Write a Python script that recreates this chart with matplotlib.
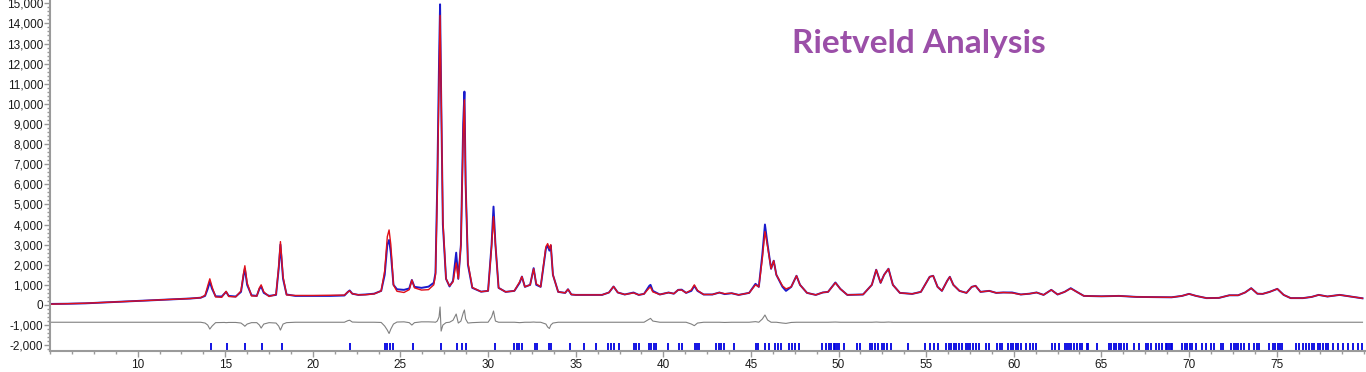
import matplotlib
matplotlib.use("Agg")
import matplotlib.pyplot as plt
from matplotlib.ticker import AutoMinorLocator, FuncFormatter, MultipleLocator

# 2theta grid with observed, calculated and difference (offset) intensities
two_theta = [5.0, 6.0, 7.0, 8.0, 9.0, 10.0, 11.0, 12.0, 13.0, 13.6,
             13.85, 14.0, 14.12, 14.25, 14.45, 14.8, 14.95, 15.05, 15.2, 15.6,
             15.9, 16.05, 16.12, 16.25, 16.5, 16.8, 16.95, 17.05, 17.2, 17.5,
             17.9, 18.05, 18.15, 18.3, 18.5, 19.0, 20.0, 21.0, 21.8, 22.0,
             22.1, 22.25, 22.6, 23.0, 23.5, 23.9, 24.1, 24.25, 24.35, 24.45,
             24.6, 24.8, 25.2, 25.5, 25.65, 25.8, 26.2, 26.6, 26.9, 27.0, 27.1,
             27.2, 27.26, 27.32, 27.42, 27.6, 27.8, 28.0, 28.18, 28.3, 28.45,
             28.58, 28.65, 28.72, 28.85, 29.1, 29.6, 30.0, 30.2, 30.31, 30.42,
             30.6, 31.0, 31.5, 31.8, 31.93, 32.1, 32.4, 32.6, 32.75, 33.0,
             33.3, 33.4, 33.5, 33.58, 33.7, 34.0, 34.4, 34.56, 34.75, 35.0,
             36.5, 36.9, 37.16, 37.4, 37.8, 38.3, 38.6, 38.9, 39.2, 39.27,
             39.4, 39.8, 40.3, 40.6, 40.85, 41.05, 41.3, 41.6, 41.77, 41.95,
             42.3, 42.8, 43.2, 43.5, 43.9, 44.3, 44.9, 45.26, 45.45, 45.65,
             45.8, 45.95, 46.15, 46.3, 46.45, 46.8, 47.0, 47.3, 47.6, 47.8,
             48.2, 48.7, 49.1, 49.4, 49.82, 50.1, 50.5, 51.4, 51.9, 52.15,
             52.4, 52.6, 52.85, 53.1, 53.5, 54.2, 54.7, 55.2, 55.4, 55.65,
             55.9, 56.2, 56.35, 56.55, 56.9, 57.3, 57.6, 57.82, 58.1, 58.6,
             59.0, 59.4, 59.9, 60.4, 60.9, 61.3, 61.7, 62.14, 62.5, 62.9,
             63.25, 63.6, 64.0, 65.0, 66.0, 67.0, 68.0, 69.0, 69.6, 70.0,
             70.4, 71.0, 71.7, 72.3, 72.8, 73.2, 73.55, 73.9, 74.2, 74.6,
             75.04, 75.4, 75.8, 76.5, 77.0, 77.4, 77.9, 78.6, 79.2, 79.9]

y_obs = [50, 60, 80, 120, 160, 200, 240, 280, 320, 360,
         450, 800, 1150, 800, 430, 420, 560, 650, 450, 420,
         650, 1500, 1800, 1000, 480, 450, 800, 920, 600, 450,
         500, 1800, 3000, 1300, 520, 450, 450, 450, 470, 650,
         720, 560, 500, 520, 560, 700, 1500, 3000, 3230, 2600,
         1000, 780, 750, 820, 1240, 900, 850, 910, 1100, 1600, 6000,
         12000, 14950, 10500, 4000, 1300, 920, 1200, 2600, 1300, 3000,
         9000, 10610, 6000, 2000, 850, 660, 700, 3000, 4890, 3000,
         850, 650, 700, 1100, 1410, 900, 1000, 1830, 1000, 900,
         2800, 2950, 2700, 2950, 1500, 650, 600, 780, 520, 500,
         500, 620, 917, 620, 520, 617, 500, 550, 950, 1000,
         700, 520, 617, 560, 750, 760, 600, 700, 950, 700,
         520, 520, 617, 540, 583, 500, 600, 1050, 900, 2500,
         4000, 3000, 1800, 2200, 1500, 900, 700, 900, 1450, 1000,
         600, 500, 620, 650, 1117, 800, 500, 520, 1000, 1750,
         1100, 1500, 1800, 1000, 600, 550, 650, 1400, 1450, 900,
         700, 1200, 1400, 1000, 700, 600, 900, 950, 650, 700,
         600, 620, 620, 520, 560, 620, 500, 750, 520, 650,
         833, 650, 450, 430, 450, 400, 390, 380, 450, 550,
         450, 340, 350, 480, 480, 620, 833, 560, 550, 650,
         800, 500, 340, 340, 400, 500, 420, 500, 420, 330]

y_calc = [40, 60, 85, 120, 160, 200, 245, 285, 320, 360,
          480, 950, 1300, 900, 400, 380, 560, 680, 420, 400,
          700, 1600, 1950, 1100, 450, 440, 850, 1000, 650, 420,
          520, 1900, 3150, 1400, 500, 470, 470, 480, 490, 650,
          700, 560, 500, 510, 550, 700, 1700, 3400, 3730, 3000,
          1000, 680, 620, 760, 1240, 850, 740, 760, 1000, 1500, 5500,
          11000, 14400, 10500, 4200, 1300, 950, 1150, 2090, 1300, 3000,
          8500, 10200, 6000, 2100, 870, 660, 700, 2900, 4390, 3000,
          850, 650, 700, 1150, 1410, 900, 1000, 1800, 1050, 900,
          2900, 3050, 2800, 3000, 1500, 650, 600, 780, 520, 500,
          500, 620, 917, 620, 520, 600, 500, 550, 850, 883,
          650, 520, 617, 560, 750, 740, 600, 750, 1000, 720,
          520, 520, 617, 560, 583, 500, 600, 1000, 900, 2300,
          3650, 2900, 1800, 2200, 1500, 950, 800, 900, 1450, 1000,
          600, 500, 620, 650, 1100, 800, 500, 520, 1000, 1750,
          1100, 1500, 1800, 1000, 600, 550, 650, 1400, 1450, 900,
          700, 1200, 1400, 1000, 700, 600, 900, 950, 650, 700,
          600, 620, 600, 520, 560, 620, 500, 750, 520, 650,
          820, 650, 450, 430, 450, 400, 390, 380, 450, 550,
          450, 340, 350, 480, 480, 620, 833, 560, 550, 650,
          800, 500, 340, 340, 400, 500, 420, 500, 420, 330]

y_diff = [-860, -860, -860, -860, -860, -860, -860, -860, -860, -860,
          -900, -1000, -1200, -1050, -880, -870, -870, -880, -870, -870,
          -900, -1000, -1060, -950, -880, -880, -1000, -1150, -950, -880,
          -900, -1050, -1250, -950, -880, -860, -860, -860, -860, -780,
          -760, -850, -860, -860, -860, -870, -1050, -1250, -1420, -1200,
          -950, -850, -840, -880, -1000, -880, -840, -840, -850, -860, -800,
          -600, -100, -1300, -1000, -880, -860, -760, -450, -900, -800,
          -400, -250, -700, -900, -880, -860, -860, -600, -300, -800,
          -860, -860, -860, -880, -870, -860, -860, -850, -860, -860,
          -950, -1100, -1170, -1000, -900, -860, -860, -860, -860, -860,
          -860, -860, -860, -860, -860, -860, -860, -860, -700, -667,
          -800, -860, -860, -860, -860, -860, -860, -950, -1030, -900,
          -860, -860, -860, -870, -860, -860, -860, -830, -860, -700,
          -500, -750, -860, -860, -860, -900, -917, -870, -860, -860,
          -860, -860, -860, -860, -850, -860, -860, -860, -860, -850,
          -860, -860, -850, -860, -860, -860, -860, -860, -860, -860,
          -860, -860, -860, -860, -860, -860, -860, -860, -860, -860,
          -860, -860, -860, -860, -860, -860, -860, -860, -860, -860,
          -860, -860, -860, -860, -860, -860, -860, -860, -860, -860,
          -860, -860, -860, -860, -860, -860, -860, -860, -860, -860,
          -860, -860, -860, -860, -860, -860, -860, -860, -860, -860]

# Bragg reflection positions (2theta)
reflections = [14.19, 15.08, 16.15, 17.12, 18.22, 22.12, 24.12, 24.26, 24.41, 24.56,
               25.74, 27.34, 28.2, 28.54, 28.75, 30.41, 31.5, 31.64, 31.79, 31.95,
               32.65, 32.78, 33.45, 33.6, 34.65, 35.49, 36.16, 36.86, 37.01, 37.16,
               37.45, 38.3, 38.44, 38.59, 39.2, 39.32, 39.45, 39.58, 40.29, 40.9,
               41.05, 41.83, 41.93, 42.02, 43.0, 43.17, 43.3, 43.48, 44.05, 45.31,
               45.39, 45.82, 46.01, 46.35, 46.57, 46.72, 47.18, 47.35, 47.52, 47.73,
               49.06, 49.31, 49.46, 49.57, 49.72, 49.82, 49.91, 50.01, 50.3, 51.06,
               51.21, 51.77, 51.91, 52.06, 52.24, 52.49, 52.58, 52.77, 53.0, 53.95,
               54.96, 55.21, 55.44, 55.65, 56.16, 56.29, 56.43, 56.58, 56.73, 56.9,
               57.06, 57.25, 57.4, 57.53, 57.68, 57.87, 58.03, 58.39, 58.58, 59.02,
               59.19, 59.3, 59.67, 59.82, 59.95, 60.1, 60.24, 60.39, 60.67, 60.9,
               61.09, 61.25, 62.2, 62.33, 62.57, 62.9, 63.01, 63.14, 63.28, 63.43,
               63.62, 63.76, 63.91, 64.16, 64.25, 64.77, 65.43, 65.57, 65.72, 65.86,
               66.01, 66.14, 66.29, 66.44, 66.86, 67.15, 67.53, 67.66, 67.82, 68.1,
               68.29, 68.48, 68.67, 68.77, 68.86, 68.96, 69.05, 69.62, 69.76, 69.91,
               70.06, 70.19, 70.38, 70.76, 70.99, 71.28, 71.43, 71.81, 71.96, 72.38,
               72.54, 72.67, 72.8, 72.96, 73.15, 73.43, 73.72, 73.87, 74.0, 74.57,
               74.77, 74.9, 75.05, 75.2, 75.33, 76.1, 76.29, 76.48, 76.67, 76.86,
               77.0, 77.15, 77.34, 77.49, 77.62, 77.81, 77.94, 78.19, 78.51, 78.76,
               79.05, 79.33, 79.62, 79.9]

fig = plt.figure(figsize=(13.66, 3.72), dpi=100)
ax = fig.add_axes([50 / 1366, 21 / 372, 1 - 50 / 1366, 351 / 372])

ax.plot(two_theta, y_obs, color='#1a1acc', lw=1.4)
ax.plot(two_theta, y_calc, color='#e0101a', lw=1.0)
ax.plot(two_theta, y_diff, color='#808080', lw=0.8)
ax.vlines(reflections, -2280, -1870, color='#0000e0', lw=1.3)

ax.set_xlim(5.0, 80.1)
ax.set_ylim(-2290, 15165)

ax.set_xticks(range(10, 80, 5))
ax.xaxis.set_minor_locator(MultipleLocator(1.25))
ax.yaxis.set_major_locator(MultipleLocator(1000))
ax.yaxis.set_minor_locator(AutoMinorLocator(5))
ax.yaxis.set_major_formatter(FuncFormatter(lambda v, p: f'{v:,.0f}'.replace('\u2212', '-')))

for s in ['top', 'right']:
    ax.spines[s].set_visible(False)
for s in ['left', 'bottom']:
    ax.spines[s].set_color('#9a9a9a')
    ax.spines[s].set_linewidth(1.5)

ax.tick_params(which='both', colors='#9a9a9a', labelcolor='#1a1a1a',
               labelsize=8.5, width=1)
ax.tick_params(which='major', length=4)
ax.tick_params(which='minor', length=2.5)
for lab in ax.get_xticklabels() + ax.get_yticklabels():
    lab.set_family('Liberation Sans')
ax.tick_params(axis='y', pad=1)
ax.tick_params(axis='x', pad=2)

fig.text(0.673, 0.882, 'Rietveld Analysis', color='#9b4fa8', fontsize=24,
         fontweight='bold', family='Lato', ha='center', va='center')

fig.savefig('out.png', dpi=100)
